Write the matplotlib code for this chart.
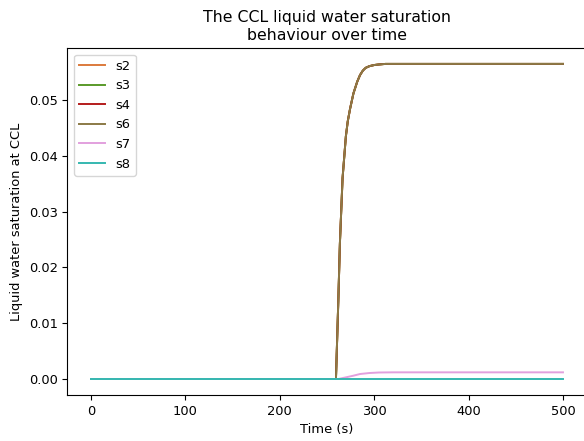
import numpy as np
import matplotlib.pyplot as plt

# --- data ---
# s2, s3, s4 and s6 share the same curve (only s6 is visible on top)
t_rise = [0, 259.5, 262, 263.7, 266.5, 270, 272, 274.4, 278, 282, 285, 288,
          291, 295, 300, 305, 312, 320, 500]
s_rise = [0, 0, 0.014, 0.0244, 0.036, 0.0435, 0.0462, 0.0484, 0.0512, 0.0533,
          0.0545, 0.0553, 0.0558, 0.0561, 0.0563, 0.0564, 0.0565, 0.0565, 0.0565]

t_s7 = [0, 262, 270, 278, 285, 295, 305, 320, 500]
s_s7 = [0, 0, 0.0003, 0.0006, 0.0009, 0.00108, 0.00117, 0.0012, 0.0012]

t_s8 = [0, 500]
s_s8 = [0, 0]

series = [
    ("s2", t_rise, s_rise, "#dc7a3c"),
    ("s3", t_rise, s_rise, "#5a9a2a"),
    ("s4", t_rise, s_rise, "#b41c1c"),
    ("s6", t_rise, s_rise, "#8b7a46"),
    ("s7", t_s7, s_s7, "#e2a0de"),
    ("s8", t_s8, s_s8, "#35b8b0"),
]

# the reference looks like a default figure shrunk a little
plt.rcParams['font.size'] = 9.4

fig = plt.figure(figsize=(5.84, 4.41), dpi=100)
ax = fig.add_axes([0.1154, 0.1048, 0.889, 0.786])

for name, t, s, c in series:
    ax.plot(t, s, color=c, label=name, linewidth=1.4)

ax.set_title("The CCL liquid water saturation\nbehaviour over time", fontsize=11.3)
ax.set_xlabel("Time (s)")
ax.set_ylabel("Liquid water saturation at CCL")
ax.set_xticks([0, 100, 200, 300, 400, 500])
ax.set_yticks([0.0, 0.01, 0.02, 0.03, 0.04, 0.05])
ax.set_xlim(-25, 525)
ax.set_ylim(-0.002825, 0.059325)
ax.legend(loc="upper left")

fig.savefig("out.png", dpi=100)
